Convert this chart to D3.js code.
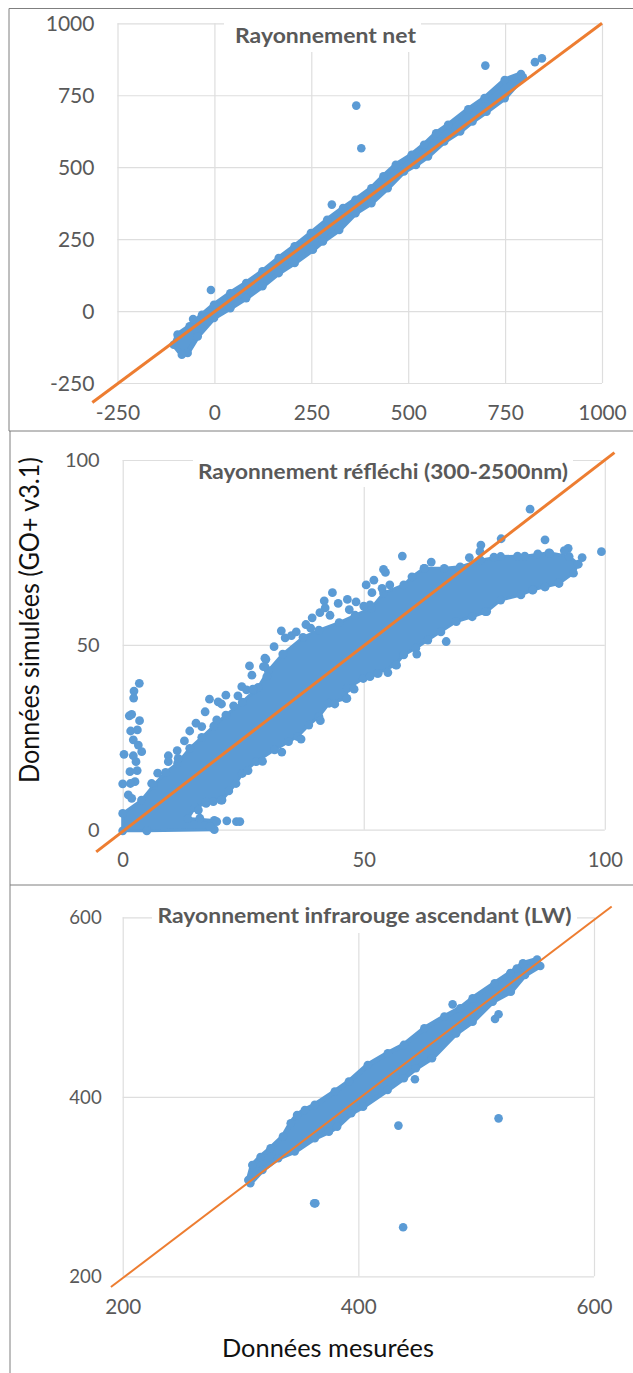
<!DOCTYPE html>
<html><head><meta charset="utf-8">
<script src="https://cdn.jsdelivr.net/npm/d3@7"></script>
<style>html,body{margin:0;padding:0;background:#fff}svg{display:block}text{font-family:Lato,sans-serif}</style>
</head><body><div id="c"></div>
<script>
// Panel 1: Rayonnement net
const netTicks=[-250,0,250,500,750,1000];
const netUpper=[[-95,-82],[-64,-53],[-32,-13],[-1,22],[41,62],[82,97],[124,138],[166,184],[207,225],[249,271],[291,317],[332,358],[364,387],[405,427],[436,468],[468,508],[509,543],[541,578],[572,618],[603,647],[655,701],[697,740],[749,803],[791,824]];
const netLower=[[796,812],[749,740],[702,693],[666,659],[634,624],[593,589],[551,537],[520,508],[489,485],[447,427],[405,375],[364,340],[322,282],[280,242],[254,213],[207,167],[166,132],[124,86],[82,45],[41,10],[-1,-24],[-43,-88],[-69,-146],[-84,-152],[-105,-117]];
const netOutliers=[[366,714],[379,566],[699,853],[827,865],[845,878],[303,370],[-9,73],[-55,-28]];
const netLine=[[-315,-318],[1000,1000]];
// Panel 2: Rayonnement réfléchi
const refTicks=[0,50,100];
const refUpper=[[0,4.4],[3.9,8],[6.4,12],[8.9,15.5],[11.4,18],[13.9,22],[16.4,25],[18.9,28],[21.4,31],[24.8,34.5],[28.1,38.5],[30.2,43],[33.2,47.5],[37.4,52],[40.7,54],[44.9,56],[48.2,58],[51.6,60],[54.1,64],[58.3,66.2],[60,68.4],[62.5,70.7],[66.7,70.7],[70,71.1],[74.2,72.9],[78.4,73.9],[83.4,74],[88.4,74.9],[92.6,73.9],[94.5,71.8]];
const refLower=[[93.5,69.4],[90.5,66.6],[87.6,65.7],[85.1,64.9],[82.6,63.5],[78.4,62.1],[75.5,59],[72.5,57.6],[69.2,56.3],[63.3,51.3],[60.8,49.1],[58.3,47.3],[56.6,44.6],[52.8,42.3],[49.9,40.9],[46.6,38.2],[46.3,35.5],[42.8,34.2],[40.7,30.6],[38.6,28.3],[36.3,25.2],[34.4,23.8],[31.5,21.6],[27.7,18.4],[24.8,15.2],[23.5,12.5],[20.6,8],[17.3,7.1],[15,6],[13.5,3],[19,2.5],[19,0],[5,-0.3],[0,-0.3]];
const refScatter=[[3.45,39.6],[2.34,37.5],[2.27,35.6],[1.86,31.2],[1.37,30.8],[3.5,29.5],[1.65,26.7],[3.04,27],[2.2,24.3],[3.24,22.9],[3.94,21.1],[0.27,20.4],[2.76,18.4],[1.5,15.7],[0,12.4],[2.55,13],[1.16,9.4],[1.87,8.5],[2.2,20],[3,16],[1.6,12.5],[7.26,15.3],[6,12.5],[9.46,20],[11.3,21.4],[11.5,19.3],[9.46,18.4],[12.8,24],[13.9,26.7],[15.2,28.8],[16.4,27.9],[17.1,31.9],[18,35.3],[19.8,34.6],[21.4,36.4],[20.5,34],[19.5,29.7],[23.9,36.2],[24.7,38.7],[25.7,37.8],[27.1,37.8],[26.3,44.3],[26.8,41.8],[29.7,46.1],[31.4,49.5],[29.5,44.1],[17.3,7.6],[18.8,7.6],[20.4,8],[21.6,2.4],[23.6,2.2],[24.3,2.2],[19.5,2.2],[18.1,0.8],[15.7,5.3],[16,3.1],[58,74],[54.1,70.4],[54.5,69.6],[52.1,67.5],[50.5,66.2],[51.7,64.1],[53.8,65.3],[55.4,66.2],[43.5,64.1],[41.8,61.9],[44.7,61.2],[46.6,62.3],[48.4,61.6],[51.3,60.8],[42,60],[40.9,58.7],[39.3,57.3],[38,55.5],[32.9,53.8],[33.7,51.9],[29.5,46.4],[29.2,44.1],[29.9,41.4],[56.8,44.5],[53,42.3],[51.3,41.4],[46.5,35.5],[84.5,86.7],[78.5,78.7],[74.3,77],[74.1,75.2],[71.9,73.6],[64,72.4],[62.6,70.7],[87.6,78.4],[92.4,76.1],[91.6,75.5],[95.3,73.6],[99.3,75.2],[87.6,65.7],[85,64.8],[90.4,66.8],[75.2,59],[77,73.7],[81.9,74],[86.1,74.6],[88.6,74.8],[67.1,50.9],[35,52.5],[36,53.5],[39,54.5],[43,58],[47,59.5],[50,60.5],[27,38],[23,33.5],[66,53.5],[61,47.5],[55,42.5],[48,38],[44,34],[41,29.5],[37,24.5],[33,21],[29,18.5],[26,16],[22,10.5]];
const refLine=[[-5.5,-6],[102,102]];
// Panel 3: Rayonnement infrarouge ascendant
const lwTicks=[200,400,600];
const lwUpper=[[306.6,307.3],[310,324],[317,333],[325.5,342.6],[336,355.6],[342.6,370.5],[348,379.8],[354.6,385.3],[363,391],[380,405.8],[392,417],[408,435.5],[425,448.5],[438.6,457.8],[456,476.3],[473,489.3],[486.5,498.6],[497,509.7],[515.7,526.5],[534.5,543],[539.7,548.7],[551.7,553]];
const lwLower=[[554.4,545.8],[541.4,535.7],[529.4,517],[514,506],[497,483.7],[483,470.7],[462.5,443],[448.8,431.8],[438.6,420.6],[424.8,407.6],[404,389],[394,381.6],[382,366.8],[375,361],[363,353.8],[346,339],[332,331.5],[318.6,318.5],[308.3,303.6]];
const lwOutliers=[[362.5,281.3],[363.5,281.3],[438,254.6],[434,367.9],[519,376],[448,419.5],[516,486.7],[519,492],[480,503],[529,538]];
const lwLine=[[190,188],[615,612]];

const BLUE='#5b9bd5',ORANGE='#ed7d31',GRID='#dedede',TXT='#595959';
const svg=d3.select('#c').append('svg').attr('width',633).attr('height',1373);

function panel(o){
  const x=d3.scaleLinear().domain(o.dom).range(o.xr), y=d3.scaleLinear().domain(o.dom).range(o.yr);
  const g=svg.append('g');
  const fmt=d=>String(d);
  const ax=g.append('g').attr('transform',`translate(0,${o.yr[0]})`)
    .call(d3.axisBottom(x).tickValues(o.ticks).tickSize(-(o.yr[0]-o.yr[1])).tickPadding(o.xPad).tickFormat(fmt));
  const ay=g.append('g').attr('transform',`translate(${o.xr[0]},0)`)
    .call(d3.axisLeft(y).tickValues(o.ticks).tickSize(-(o.xr[1]-o.xr[0])).tickPadding(o.yPad).tickFormat(fmt));
  const fit=(sel,font,w)=>sel.selectAll('text').attr('fill',TXT).attr('font-size',font)
    .attr('textLength',d=>String(Math.abs(d)).length*w+(d<0?8:0)).attr('lengthAdjust','spacingAndGlyphs');
  [ax,ay].forEach(a=>{a.select('.domain').remove();a.selectAll('line').attr('stroke',GRID).attr('stroke-width',1.2);});
  fit(ax,o.xFont,o.xW); fit(ay,o.yFont,o.yW);
  g.append('rect').attr('x',o.tb[0]).attr('y',o.tb[1]).attr('width',o.tb[2]-o.tb[0]).attr('height',o.tb[3]-o.tb[1]).attr('fill','#fff');
  const outline=o.upper.concat(o.lower);
  g.append('path').attr('d',d3.line().x(d=>x(d[0])).y(d=>y(d[1])).curve(d3.curveLinearClosed)(outline))
    .attr('fill',BLUE).attr('stroke',BLUE).attr('stroke-width',o.edge).attr('stroke-linejoin','round');
  g.append('g').selectAll('circle').data(outline.concat(o.dots)).join('circle')
    .attr('cx',d=>x(d[0])).attr('cy',d=>y(d[1])).attr('r',o.r).attr('fill',BLUE);
  g.append('path').attr('d',d3.line().x(d=>x(d[0])).y(d=>y(d[1]))(o.line))
    .attr('fill','none').attr('stroke',ORANGE).attr('stroke-width',o.lw);
  g.append('text').attr('x',o.tx).attr('y',o.ty).attr('font-size',o.tf).attr('font-weight',700).attr('fill',TXT)
    .attr('textLength',o.tw).attr('lengthAdjust','spacingAndGlyphs').text(o.title);
}

panel({dom:[-250,1000],ticks:netTicks,xr:[117.5,602],yr:[383,23.3],upper:netUpper,lower:netLower,dots:netOutliers,line:netLine,r:4.3,edge:5,lw:3,
  xPad:21,yPad:23,xFont:22,yFont:22,xW:12.1,yW:12.2,title:'Rayonnement net',tb:[224,18,421,52],tx:235,ty:42.5,tf:20,tw:181});
panel({dom:[0,100],ticks:refTicks,xr:[122.7,604.8],yr:[829.7,460],upper:refUpper,lower:refLower,dots:refScatter,line:refLine,r:4.4,edge:3,lw:3,
  xPad:22,yPad:23,xFont:21,yFont:20,xW:11.7,yW:11.6,title:'Rayonnement réfléchi (300-2500nm)',tb:[193,452,573,487],tx:198,ty:479,tf:20,tw:370});
panel({dom:[200,600],ticks:lwTicks,xr:[122.7,594],yr:[1276.3,917.3],upper:lwUpper,lower:lwLower,dots:lwOutliers,line:lwLine,r:4.3,edge:5,lw:2,
  xPad:22,yPad:21,xFont:22,yFont:20,xW:12,yW:10.8,title:'Rayonnement infrarouge ascendant (LW)',tb:[152,910,577,933],tx:157.5,ty:923,tf:20,tw:414});

const frames=[[9,8.5,633,8.5],[9,8.5,9,431],[9,431,633,431],[10,431,10,885],[10,885,633,885],[10,885,10,1373]];
svg.append('g').selectAll('line').data(frames).join('line')
  .attr('x1',d=>d[0]).attr('y1',d=>d[1]).attr('x2',d=>d[2]).attr('y2',d=>d[3]).attr('stroke','#7f7f7f').attr('stroke-width',1);

svg.append('text').attr('transform','translate(39,783) rotate(-90)').attr('font-size',26).attr('fill','#111')
  .attr('textLength',326).attr('lengthAdjust','spacingAndGlyphs').text('Données simulées (GO+ v3.1)');
svg.append('text').attr('x',222).attr('y',1357).attr('font-size',25).attr('fill','#111')
  .attr('textLength',212).attr('lengthAdjust','spacingAndGlyphs').text('Données mesurées');
</script></body></html>
